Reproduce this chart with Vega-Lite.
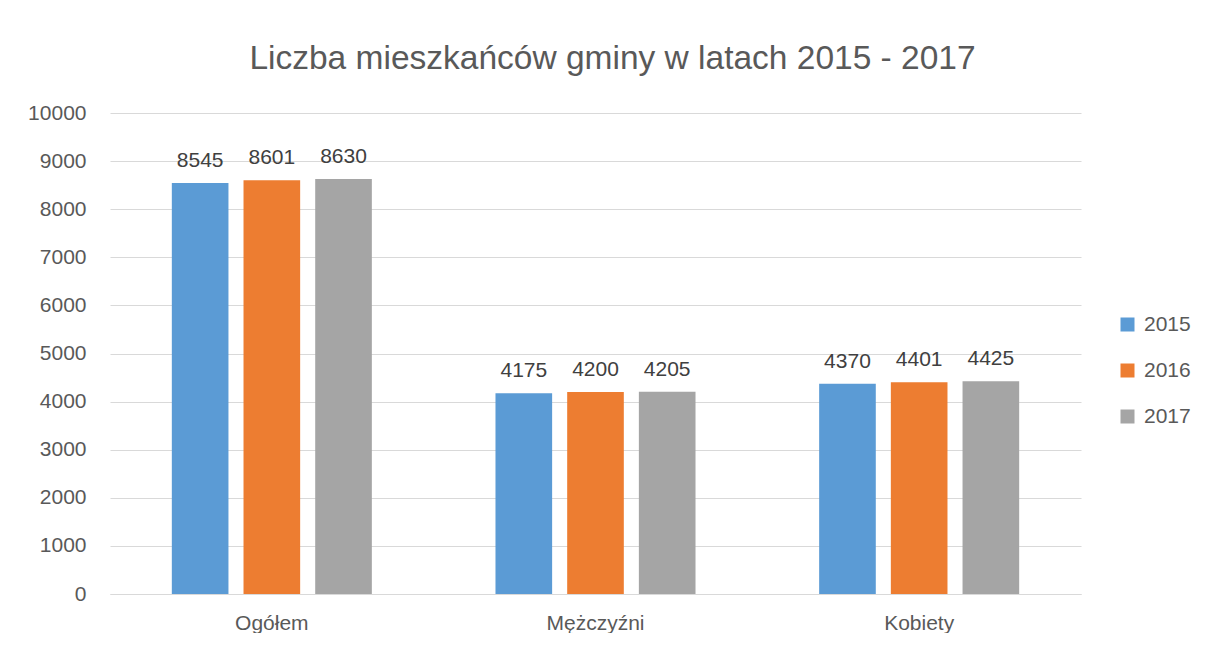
{
  "$schema": "https://vega.github.io/schema/vega-lite/v6.json",
  "width": 971,
  "height": 481,
  "padding": {"left": 27, "top": 41, "right": 0, "bottom": 0},
  "background": "white",
  "title": {
    "text": "Liczba mieszkańców gminy w latach 2015 - 2017",
    "font": "Liberation Sans",
    "fontSize": 33.5,
    "fontWeight": "normal",
    "color": "#595959",
    "anchor": "middle",
    "dx": 17,
    "offset": 26
  },
  "data": {
    "values": [
      {"kategoria": "Ogółem", "rok": "2015", "wartosc": 8545},
      {"kategoria": "Ogółem", "rok": "2016", "wartosc": 8601},
      {"kategoria": "Ogółem", "rok": "2017", "wartosc": 8630},
      {"kategoria": "Mężczyźni", "rok": "2015", "wartosc": 4175},
      {"kategoria": "Mężczyźni", "rok": "2016", "wartosc": 4200},
      {"kategoria": "Mężczyźni", "rok": "2017", "wartosc": 4205},
      {"kategoria": "Kobiety", "rok": "2015", "wartosc": 4370},
      {"kategoria": "Kobiety", "rok": "2016", "wartosc": 4401},
      {"kategoria": "Kobiety", "rok": "2017", "wartosc": 4425}
    ]
  },
  "encoding": {
    "x": {
      "field": "kategoria",
      "type": "nominal",
      "sort": ["Ogółem", "Mężczyźni", "Kobiety"],
      "scale": {"paddingInner": 0.382, "paddingOuter": 0.191},
      "axis": {
        "title": null,
        "labelAngle": 0,
        "labelFont": "Liberation Sans",
        "labelFontSize": 21,
        "labelColor": "#595959",
        "labelPadding": 18,
        "ticks": false,
        "domainColor": "#d9d9d9",
        "domainWidth": 1,
        "grid": false
      }
    },
    "xOffset": {
      "field": "rok",
      "type": "nominal",
      "scale": {"paddingInner": 0.21, "paddingOuter": 0}
    },
    "y": {
      "field": "wartosc",
      "type": "quantitative",
      "scale": {"domain": [0, 10000], "nice": false},
      "axis": {
        "title": null,
        "values": [0, 1000, 2000, 3000, 4000, 5000, 6000, 7000, 8000, 9000, 10000],
        "format": "d",
        "labelFont": "Liberation Sans",
        "labelFontSize": 21,
        "labelColor": "#595959",
        "labelPadding": 24,
        "ticks": false,
        "domain": false,
        "grid": true,
        "gridColor": "#d9d9d9",
        "gridWidth": 1
      }
    }
  },
  "layer": [
    {
      "mark": {"type": "bar"},
      "encoding": {
        "color": {
          "field": "rok",
          "type": "nominal",
          "scale": {"domain": ["2015", "2016", "2017"], "range": ["#5B9BD5", "#ED7D31", "#A5A5A5"]},
          "legend": {
            "title": null,
            "orient": "none",
            "legendX": 1007,
            "legendY": 201,
            "symbolType": "square",
            "symbolSize": 196,
            "symbolStrokeWidth": 0,
            "labelFont": "Liberation Sans",
            "labelFontSize": 21,
            "labelColor": "#595959",
            "labelOffset": 6,
            "rowPadding": 24
          }
        }
      }
    },
    {
      "mark": {
        "type": "text",
        "baseline": "alphabetic",
        "dy": -16,
        "font": "Liberation Sans",
        "fontSize": 21,
        "color": "#404040"
      },
      "encoding": {
        "text": {"field": "wartosc", "type": "quantitative", "format": "d"}
      }
    }
  ],
  "config": {
    "view": {"stroke": null}
  }
}
